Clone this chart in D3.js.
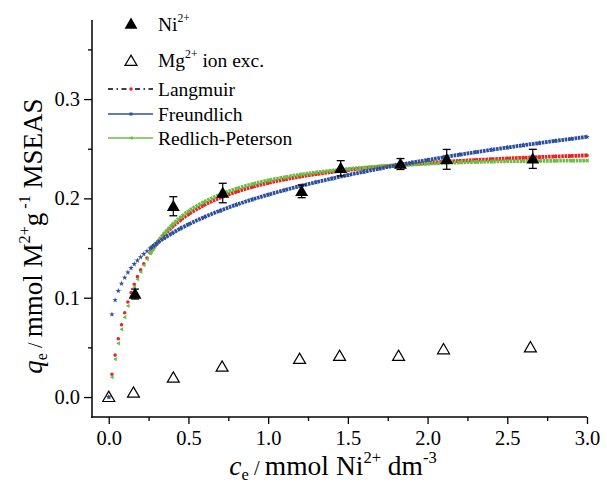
<!DOCTYPE html>
<html>
<head>
<meta charset="utf-8">
<script src="https://cdn.jsdelivr.net/npm/d3@7"></script>
<style>
  html, body { margin: 0; padding: 0; background: #ffffff; }
  svg { display: block; }
</style>
</head>
<body>
<svg id="chart" width="607" height="484"></svg>
<script>
// ---------------- data ----------------
// Ni2+ uptake (filled triangles with error bars)
const niX   = [0.165, 0.405, 0.715, 1.21, 1.455, 1.83, 2.12, 2.66];
const niY   = [0.1037, 0.1921, 0.2054, 0.2071, 0.2303, 0.2346, 0.2393, 0.2398];
const niErr = [0.005, 0.0096, 0.0098, 0.0064, 0.0077, 0.0055, 0.010, 0.0096];

// Mg2+ ion exchange (open triangles)
const mgX = [0.0, 0.155, 0.405, 0.711, 1.197, 1.448, 1.818, 2.10, 2.645];
const mgY = [0.0, 0.0043, 0.0194, 0.0305, 0.0383, 0.0413, 0.0413, 0.048, 0.050];

// model curves, sampled at these concentrations
const fitX = [0, 0.02, 0.04, 0.06, 0.08, 0.10, 0.12, 0.14, 0.16, 0.18, 0.20, 0.22, 0.24, 0.26, 0.28, 0.30,
              0.35, 0.40, 0.45, 0.50, 0.6, 0.7, 0.8, 0.9, 1.0, 1.1, 1.2, 1.3, 1.4, 1.5, 1.6, 1.7, 1.8, 1.9,
              2.0, 2.1, 2.2, 2.3, 2.4, 2.5, 2.6, 2.7, 2.8, 2.9, 3.0];
const langmuirY = [0, 0.0230, 0.0422, 0.0586, 0.0727, 0.0849, 0.0957, 0.1051, 0.1136, 0.1212, 0.1280, 0.1342,
                   0.1399, 0.1450, 0.1497, 0.1541, 0.1636, 0.1716, 0.1783, 0.1841, 0.1935, 0.2008, 0.2067,
                   0.2115, 0.2156, 0.2190, 0.2219, 0.2244, 0.2266, 0.2286, 0.2303, 0.2319, 0.2333, 0.2345,
                   0.2357, 0.2368, 0.2377, 0.2386, 0.2394, 0.2402, 0.2409, 0.2416, 0.2422, 0.2427, 0.2433];
const freundlichY = [0, 0.0832, 0.0975, 0.1069, 0.1142, 0.1202, 0.1254, 0.1299, 0.1339, 0.1375, 0.1409, 0.1440,
                     0.1469, 0.1496, 0.1522, 0.1546, 0.1602, 0.1651, 0.1697, 0.1738, 0.1812, 0.1877, 0.1936,
                     0.1989, 0.2037, 0.2082, 0.2124, 0.2163, 0.2200, 0.2235, 0.2268, 0.2300, 0.2331, 0.2360,
                     0.2387, 0.2414, 0.2440, 0.2465, 0.2489, 0.2512, 0.2535, 0.2557, 0.2579, 0.2599, 0.2620];
const redlichY = [0, 0.0200, 0.0382, 0.0541, 0.0682, 0.0804, 0.0917, 0.1016, 0.1106, 0.1187, 0.1260, 0.1327,
                  0.1389, 0.1445, 0.1497, 0.1546, 0.1651, 0.1736, 0.1808, 0.1871, 0.1965, 0.2038, 0.2097,
                  0.2143, 0.2181, 0.2212, 0.2239, 0.2261, 0.2279, 0.2296, 0.2310, 0.2322, 0.2333, 0.2341,
                  0.2349, 0.2356, 0.2362, 0.2367, 0.2371, 0.2374, 0.2376, 0.2378, 0.2379, 0.2380, 0.2381];

const xMajorTicks = [0.0, 0.5, 1.0, 1.5, 2.0, 2.5, 3.0];
const xMinorTicks = [0.25, 0.75, 1.25, 1.75, 2.25, 2.75];
const yMajorTicks = [0.0, 0.1, 0.2, 0.3];
const yMinorTicks = [0.05, 0.15, 0.25, 0.35];

const legendLabels = ["Ni", "Mg", "Langmuir", "Freundlich", "Redlich-Peterson"];

// ---------------- drawing ----------------
const svg = d3.select("#chart");
const x = d3.scaleLinear().domain([-0.105, 3.0]).range([92, 587]);
const y = d3.scaleLinear().domain([-0.0201, 0.3796]).range([417, 20]);

const RED = "#ec2227", BLUE = "#2c4f9f", GREEN = "#6bbd45";
const SERIF = '"Liberation Serif"';

// rich text helper: parts = [[text, kind]] kind: null | 'i' | 'sup' | 'sub' | 'small'
function rich(textSel, parts, fs) {
  let shift = 0;
  parts.forEach(([t, kind]) => {
    const ts = textSel.append("tspan").text(t).style("font-family", SERIF);
    let target = 0;
    if (kind === "sup") target = -0.45 * fs;
    if (kind === "sub") target = 0.18 * fs;
    ts.attr("dy", target - shift);
    shift = target;
    if (kind === "sup" || kind === "sub") ts.style("font-size", (0.6 * fs) + "px");
    if (kind === "small") ts.style("font-size", (0.75 * fs) + "px");
    if (kind === "i") ts.style("font-style", "italic");
  });
}

// model curves
const series = [
  {ys: langmuirY, color: RED, shape: "circle"},
  {ys: redlichY, color: GREEN, shape: "ltri"},
  {ys: freundlichY, color: BLUE, shape: "star"}
];
const starPath = d3.symbol().type(d3.symbolStar).size(10)();
const circPath = d3.symbol().type(d3.symbolCircle).size(10)();
const triPath = "M-2.1,0L1.7,-2.1L1.7,2.1Z";

series.forEach(s => {
  const pts = fitX.map((cx, i) => [cx, s.ys[i]]);
  const band = pts.filter(p => p[0] >= 0.26);
  const g = svg.append("g");
  g.append("path")
    .attr("d", d3.line().x(p => x(p[0])).y(p => y(p[1])).curve(d3.curveMonotoneX)(band))
    .attr("fill", "none").attr("stroke", s.color).attr("stroke-width", 3.8)
    .attr("stroke-dasharray", "2.6,0.7");
  g.selectAll(".m").data(pts).enter().append("path")
    .attr("transform", p => `translate(${x(p[0])},${y(p[1])})`)
    .attr("d", s.shape === "star" ? starPath : (s.shape === "circle" ? circPath : triPath))
    .attr("fill", s.color);
});

// axes
const axisG = svg.append("g").attr("stroke", "#000").attr("fill", "none");
axisG.append("line").attr("x1", 92).attr("x2", 92).attr("y1", y.range()[1]).attr("y2", y.range()[0] + 0.75).attr("stroke-width", 1.5);
axisG.append("line").attr("x1", 91.25).attr("x2", x.range()[1]).attr("y1", 417).attr("y2", 417).attr("stroke-width", 1.5);

const TICKFS = "20.5px";
const xAxis = d3.axisBottom(x).tickValues(xMajorTicks).tickFormat(d3.format(".1f")).tickSizeInner(7).tickSizeOuter(0).tickPadding(6);
const xg = svg.append("g").attr("transform", "translate(0,417)").call(xAxis);
xg.select(".domain").remove();
xg.selectAll(".tick line").attr("stroke-width", 1.3);
xg.selectAll("text").style("font-family", SERIF).style("font-size", TICKFS).attr("fill", "#000");
const xgm = svg.append("g").attr("transform", "translate(0,417)").call(d3.axisBottom(x).tickValues(xMinorTicks).tickSizeInner(4).tickSizeOuter(0).tickFormat(""));
xgm.select(".domain").remove();
xgm.selectAll(".tick line").attr("stroke-width", 1.3);

const yAxis = d3.axisLeft(y).tickValues(yMajorTicks).tickFormat(d3.format(".1f")).tickSizeInner(8).tickSizeOuter(0).tickPadding(4);
const yg = svg.append("g").attr("transform", "translate(92,0)").call(yAxis);
yg.select(".domain").remove();
yg.selectAll(".tick line").attr("stroke-width", 1.3);
yg.selectAll("text").style("font-family", SERIF).style("font-size", TICKFS).attr("fill", "#000");
const ygm = svg.append("g").attr("transform", "translate(92,0)").call(d3.axisLeft(y).tickValues(yMinorTicks).tickSizeInner(4).tickSizeOuter(0).tickFormat(""));
ygm.select(".domain").remove();
ygm.selectAll(".tick line").attr("stroke-width", 1.3);

// Mg open triangles
const triUp = d3.symbol().type(d3.symbolTriangle).size(62)();
svg.append("g").selectAll("path").data(mgX.map((v, i) => [v, mgY[i]])).enter().append("path")
  .attr("transform", p => `translate(${x(p[0])},${y(p[1]) + 1})`)
  .attr("d", triUp).attr("fill", "none").attr("stroke", "#000").attr("stroke-width", 1.2);

// Ni error bars and filled triangles
const niG = svg.append("g");
niX.forEach((cx, i) => {
  const px = x(cx), top = y(niY[i] + niErr[i]), bot = y(niY[i] - niErr[i]);
  niG.append("line").attr("x1", px).attr("x2", px).attr("y1", top).attr("y2", bot).attr("stroke", "#000").attr("stroke-width", 1.2);
  niG.append("line").attr("x1", px - 4).attr("x2", px + 4).attr("y1", top).attr("y2", top).attr("stroke", "#000").attr("stroke-width", 1.3);
  niG.append("line").attr("x1", px - 4).attr("x2", px + 4).attr("y1", bot).attr("y2", bot).attr("stroke", "#000").attr("stroke-width", 1.3);
});
const triFilled = d3.symbol().type(d3.symbolTriangle).size(72)();
niG.selectAll(".t").data(niX.map((v, i) => [v, niY[i]])).enter().append("path")
  .attr("transform", p => `translate(${x(p[0])},${y(p[1]) + 1})`)
  .attr("d", triFilled).attr("fill", "#000");

// legend
const lg = svg.append("g");
const FS = 19.5;
lg.append("path").attr("transform", "translate(131,25)").attr("d", triFilled).attr("fill", "#000");
rich(lg.append("text").attr("x", 158).attr("y", 31).style("font-family", SERIF).style("font-size", FS + "px"), [[legendLabels[0], null], ["2+", "sup"]], FS);
lg.append("path").attr("transform", "translate(131,62)").attr("d", triUp).attr("fill", "none").attr("stroke", "#000").attr("stroke-width", 1.2);
rich(lg.append("text").attr("x", 158).attr("y", 67).style("font-family", SERIF).style("font-size", FS + "px"), [[legendLabels[1], null], ["2+", "sup"], [" ion exc.", null]], FS);

const rows = [
  {yy: 89, color: RED, dash: "5,3.5,1.5,3.5", line: "#000", label: legendLabels[2], mk: circPath},
  {yy: 114, color: BLUE, dash: null, line: BLUE, label: legendLabels[3], mk: d3.symbol().type(d3.symbolSquare).size(9)()},
  {yy: 138, color: GREEN, dash: null, line: GREEN, label: legendLabels[4], mk: triPath}
];
rows.forEach(r => {
  const ln = lg.append("line").attr("x1", 108).attr("x2", 153).attr("y1", r.yy).attr("y2", r.yy)
    .attr("stroke", r.line).attr("stroke-width", 1.3);
  if (r.dash) ln.attr("stroke-dasharray", r.dash);
  lg.append("path").attr("transform", `translate(131,${r.yy})`).attr("d", r.mk).attr("fill", r.color);
  lg.append("text").attr("x", 158).attr("y", r.yy + 7).style("font-family", SERIF).style("font-size", FS + "px").text(r.label);
});

// axis titles
const TF = 27.5;
const xt = svg.append("text").attr("x", 333).attr("y", 475).attr("text-anchor", "middle").style("font-family", SERIF).style("font-size", TF + "px");
rich(xt, [["c", "i"], ["e", "sub"], [" / ", "small"], ["mmol Ni", null], ["2+", "sup"], [" dm", null], ["-3", "sup"]], TF);

const YF = 27;
const yt = svg.append("text").attr("transform", "translate(42,236) rotate(-90)").attr("text-anchor", "middle").style("font-family", SERIF).style("font-size", YF + "px");
rich(yt, [["q", "i"], ["e", "sub"], [" / ", "small"], ["mmol M", null], ["2+", "sup"], ["g", null], [" -1", "sup"], [" MSEAS", null]], YF);
</script>
</body>
</html>
